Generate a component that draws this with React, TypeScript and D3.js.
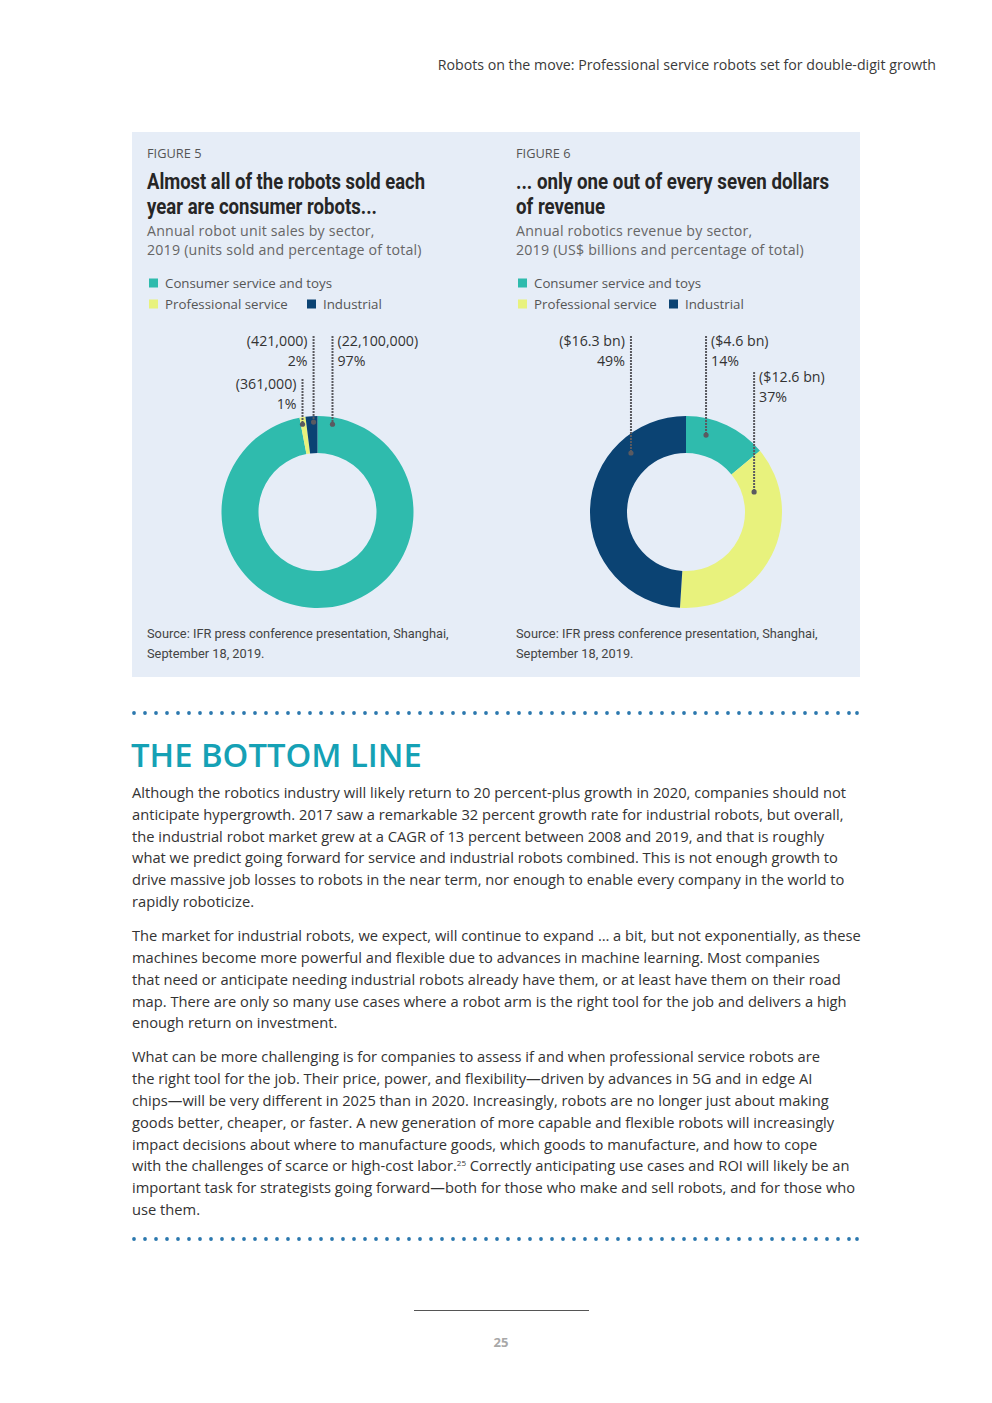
import { useEffect, useRef } from 'react';
import * as d3 from 'd3';

// ---- data ----
const sectors = ['Consumer service and toys', 'Professional service', 'Industrial'];
const sectorColors = ['#2fbbad', '#e8f27d', '#0b4373'];

// figure 5: unit sales
const unitLabels = ['(22,100,000)', '(361,000)', '(421,000)'];
const unitShares = [97, 1, 2];
const unitPctLabels = ['97%', '1%', '2%'];

// figure 6: revenue
const revenueLabels = ['($4.6 bn)', '($12.6 bn)', '($16.3 bn)'];
const revenueShares = [14, 37, 49];
const revenuePctLabels = ['14%', '37%', '49%'];

const bodyParas = [
  [
    'Although the robotics industry will likely return to 20 percent-plus growth in 2020, companies should not',
    'anticipate hypergrowth. 2017 saw a remarkable 32 percent growth rate for industrial robots, but overall,',
    'the industrial robot market grew at a CAGR of 13 percent between 2008 and 2019, and that is roughly',
    'what we predict going forward for service and industrial robots combined. This is not enough growth to',
    'drive massive job losses to robots in the near term, nor enough to enable every company in the world to',
    'rapidly roboticize.',
  ],
  [
    'The market for industrial robots, we expect, will continue to expand \u2026 a bit, but not exponentially, as these',
    'machines become more powerful and flexible due to advances in machine learning. Most companies',
    'that need or anticipate needing industrial robots already have them, or at least have them on their road',
    'map. There are only so many use cases where a robot arm is the right tool for the job and delivers a high',
    'enough return on investment.',
  ],
  [
    'What can be more challenging is for companies to assess if and when professional service robots are',
    'the right tool for the job. Their price, power, and flexibility\u2014driven by advances in 5G and in edge AI',
    'chips\u2014will be very different in 2025 than in 2020. Increasingly, robots are no longer just about making',
    'goods better, cheaper, or faster. A new generation of more capable and flexible robots will increasingly',
    'impact decisions about where to manufacture goods, which goods to manufacture, and how to cope',
    'with the challenges of scarce or high-cost labor.^25^ Correctly anticipating use cases and ROI will likely be an',
    'important task for strategists going forward\u2014both for those who make and sell robots, and for those who',
    'use them.',
  ],
];

const SANS = '"Open Sans", "Noto Sans", sans-serif';
const COND = 'Roboto, "Open Sans", sans-serif';
const NARROW = 'Roboto, "Open Sans", sans-serif';

interface Leader {
  idx: number;
  angle: number; // degrees, clockwise from 12 o'clock
  r: number;
  top: number;
  side: 'left' | 'right';
}

interface Figure {
  x0: number;
  cx: number;
  cy: number;
  num: string;
  title: string[];
  titleWidths: number[];
  sub: string[];
  shares: number[];
  valueLabels: string[];
  pctLabels: string[];
  industrialX: number;
  leaders: Leader[];
}

const figures: Figure[] = [
  {
    x0: 147,
    cx: 317.5,
    cy: 512,
    num: 'FIGURE 5',
    title: ['Almost all of the robots sold each', 'year are consumer robots...'],
    titleWidths: [278, 230],
    sub: ['Annual robot unit sales by sector,', '2019 (units sold and percentage of total)'],
    shares: unitShares,
    valueLabels: unitLabels,
    pctLabels: unitPctLabels,
    industrialX: 307,
    leaders: [
      { idx: 0, angle: 9.7, r: 89, top: 336, side: 'right' },
      { idx: 2, angle: -2.5, r: 90, top: 336, side: 'left' },
      { idx: 1, angle: -9.7, r: 89, top: 379, side: 'left' },
    ],
  },
  {
    x0: 516,
    cx: 686,
    cy: 512,
    num: 'FIGURE 6',
    title: ['... only one out of every seven dollars', 'of revenue'],
    titleWidths: [313, 89],
    sub: ['Annual robotics revenue by sector,', '2019 (US$ billions and percentage of total)'],
    shares: revenueShares,
    valueLabels: revenueLabels,
    pctLabels: revenuePctLabels,
    industrialX: 669,
    leaders: [
      { idx: 0, angle: 14.6, r: 79.5, top: 336, side: 'right' },
      { idx: 1, angle: 73.6, r: 71, top: 372, side: 'right' },
      { idx: 2, angle: -43, r: 80.7, top: 336, side: 'left' },
    ],
  },
];

export default function App() {
  const svgRef = useRef<SVGSVGElement>(null);

  useEffect(() => {
    if (!svgRef.current) return;
    const svg = d3.select(svgRef.current);
    svg.selectAll('*').remove();

    svg.append('rect').attr('width', 992).attr('height', 1403).attr('fill', '#ffffff');

    // running header
    svg.append('text')
      .attr('x', 936).attr('y', 70)
      .attr('text-anchor', 'end')
      .style('font-family', SANS).style('font-size', '14.2px').style('fill', '#3a3a3a')
      .text('Robots on the move: Professional service robots set for double-digit growth');

    // figure panel
    svg.append('rect')
      .attr('x', 132).attr('y', 132).attr('width', 728).attr('height', 545)
      .attr('fill', '#e6edf7');

    const pie = d3.pie<number>().sort(null).value(d => d);
    const arc = d3.arc<d3.PieArcDatum<number>>().innerRadius(59).outerRadius(96);

    figures.forEach(fig => {
      const g = svg.append('g');
      g.append('text')
        .attr('x', fig.x0).attr('y', 158)
        .style('font-family', SANS).style('font-size', '12.8px').style('fill', '#555')
        .text(fig.num);

      fig.title.forEach((t, i) => {
        g.append('text')
          .attr('x', fig.x0).attr('y', 189 + i * 25)
          .attr('textLength', fig.titleWidths[i])
          .attr('lengthAdjust', 'spacingAndGlyphs')
          .style('font-family', COND).style('font-weight', 'bold').style('font-size', '22px')
          .style('fill', '#262626')
          .text(t);
      });

      fig.sub.forEach((t, i) => {
        g.append('text')
          .attr('x', fig.x0).attr('y', 236 + i * 18.5)
          .style('font-family', SANS).style('font-size', '14.2px').style('fill', '#666')
          .style('letter-spacing', '0.2px')
          .text(t);
      });

      // legend
      const legendPos = [
        { x: fig.x0 + 2, y: 283 },
        { x: fig.x0 + 2, y: 304 },
        { x: fig.industrialX, y: 304 },
      ];
      sectors.forEach((s, i) => {
        const p = legendPos[i];
        g.append('rect')
          .attr('x', p.x).attr('y', p.y - 4.5).attr('width', 9).attr('height', 9)
          .attr('fill', sectorColors[i]);
        g.append('text')
          .attr('x', p.x + 16).attr('y', p.y + 4.5)
          .style('font-family', SANS).style('font-size', '13.3px').style('fill', '#555')
          .text(s);
      });

      // donut
      const dg = g.append('g').attr('transform', `translate(${fig.cx},${fig.cy})`);
      dg.selectAll('path')
        .data(pie(fig.shares))
        .enter()
        .append('path')
        .attr('d', arc)
        .attr('fill', (_d, i) => sectorColors[i]);

      // leaders
      fig.leaders.forEach(l => {
        const a = (l.angle * Math.PI) / 180;
        const x = fig.cx + l.r * Math.sin(a);
        const y = fig.cy - l.r * Math.cos(a);
        g.append('line')
          .attr('x1', x).attr('x2', x).attr('y1', l.top).attr('y2', y)
          .attr('stroke', '#5a5a60').attr('stroke-width', 2).attr('stroke-dasharray', '2,1');
        g.append('circle').attr('cx', x).attr('cy', y).attr('r', 2.6).attr('fill', '#5a5a60');
        const tx = l.side === 'right' ? x + 5 : x - 6;
        const anchor = l.side === 'right' ? 'start' : 'end';
        [fig.valueLabels[l.idx], fig.pctLabels[l.idx]].forEach((t, i) => {
          g.append('text')
            .attr('x', tx).attr('y', l.top + 10 + i * 20)
            .attr('text-anchor', anchor)
            .style('font-family', SANS).style('font-size', '14.2px').style('fill', '#333')
            .text(t);
        });
      });

      ['Source: IFR press conference presentation, Shanghai,', 'September 18, 2019.'].forEach((t, i) => {
        g.append('text')
          .attr('x', fig.x0).attr('y', 638 + i * 20)
          .style('font-family', NARROW).style('font-size', '12.8px').style('fill', '#444')
          .text(t);
      });
    });

    // dotted separators
    const dotX = d3.range(134, 857, 11);
    [713, 1239].forEach(yy => {
      svg.append('g').selectAll('circle')
        .data([...dotX, 857])
        .enter()
        .append('circle')
        .attr('cx', d => d).attr('cy', yy).attr('r', 1.9)
        .attr('fill', '#2b78ae');
    });

    svg.append('text')
      .attr('x', 131).attr('y', 767)
      .style('font-family', SANS).style('font-weight', 600).style('font-size', '32.8px')
      .style('fill', '#15a1b5')
      .text('THE BOTTOM LINE');

    // body text
    let y = 798;
    bodyParas.forEach(par => {
      par.forEach(line => {
        const t = svg.append('text')
          .attr('x', 132).attr('y', y)
          .style('font-family', SANS).style('font-size', '14.7px').style('fill', '#333');
        const parts = line.split('^');
        parts.forEach((p, i) => {
          if (i % 2 === 1) {
            t.append('tspan').attr('dy', -5).style('font-size', '8px').text(p);
          } else {
            t.append('tspan').attr('dy', i > 0 ? 5 : 0).text(p);
          }
        });
        y += 21.8;
      });
      y += 12.3;
    });

    // footer
    svg.append('line')
      .attr('x1', 414).attr('x2', 589).attr('y1', 1310.5).attr('y2', 1310.5)
      .attr('stroke', '#555').attr('stroke-width', 1);
    svg.append('text')
      .attr('x', 501).attr('y', 1347).attr('text-anchor', 'middle')
      .style('font-family', SANS).style('font-weight', 'bold').style('font-size', '13px')
      .style('fill', '#a8a8a8')
      .text('25');
  }, []);

  return (
    <svg
      ref={svgRef}
      width={992}
      height={1403}
      style={{ position: 'absolute', left: 0, top: 0, display: 'block' }}
    />
  );
}
